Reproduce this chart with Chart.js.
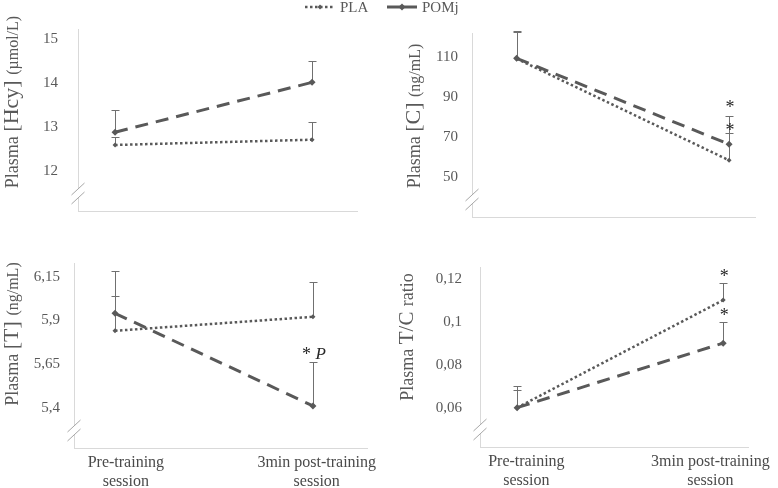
<!DOCTYPE html>
<html>
<head>
<meta charset="utf-8">
<script src="https://cdn.jsdelivr.net/npm/chart.js@4.4.1/dist/chart.umd.min.js"></script>
<style>
  body { margin: 0; background: #fff; width: 778px; height: 488px; position: relative; overflow: hidden; }
  canvas { position: absolute; }
</style>
</head>
<body>
<canvas id="cChart" width="388" height="240" style="left:390px;top:0"></canvas>
<canvas id="tChart" width="390" height="248" style="left:0;top:240px"></canvas>
<canvas id="tcChart" width="388" height="248" style="left:390px;top:240px"></canvas>
<canvas id="hcyChart" width="470" height="240" style="left:0;top:0"></canvas>
<script>
// x categories (index 0 = pre, 1 = post)
const sessionLabels = [['Pre-training', 'session'], ['3min post-training', 'session']];

// Plasma homocysteine (umol/L)
const hcyTicks = [12, 13, 14, 15];
const hcyPla = [12.59, 12.71];
const hcyPlaSd = [0.19, 0.41];
const hcyPom = [12.88, 14.01];
const hcyPomSd = [0.50, 0.48];

// Plasma cortisol (ng/mL)
const cTicks = [50, 70, 90, 110];
const cPla = [109.0, 58.2];
const cPlaSd = [13.5, 13.8];
const cPom = [109.2, 66.2];
const cPomSd = [13.8, 14.0];

// Plasma testosterone (ng/mL)
const tTicks = [5.4, 5.65, 5.9, 6.15];
const tPla = [5.84, 5.92];
const tPlaSd = [0.20, 0.20];
const tPom = [5.94, 5.41];
const tPomSd = [0.245, 0.25];

// T/C ratio
const tcTicks = [0.06, 0.08, 0.1, 0.12];
const tcPla = [0.060, 0.110];
const tcPlaSd = [0.010, 0.008];
const tcPom = [0.060, 0.090];
const tcPomSd = [0.008, 0.010];

// significance marks
const cNotes = [{ x: 1, y: 85.5, text: '*' }, { x: 1, y: 74, text: '*' }];
const tNotes = [{ x: 1, y: 5.713, text: '* ', italic: 'P' }];
const tcNotes = [{ x: 1, y: 0.1216, text: '*' }, { x: 1, y: 0.1035, text: '*' }];

const SERIF = '"Liberation Serif", "Times New Roman", serif';
const INK = '#595959';

function series(label, values, sd, dash, width, radius) {
  return {
    label: label,
    data: values.map((v, i) => ({ x: i, y: v })),
    sd: sd,
    borderColor: INK,
    backgroundColor: INK,
    borderDash: dash,
    borderWidth: width,
    pointStyle: 'rectRot',
    pointRadius: radius,
    pointBorderWidth: 0,
    tension: 0
  };
}

function extras(cfg) {
  return {
    id: 'panelExtras',
    beforeDatasetsDraw(chart) {
      // error bars (upper half only)
      const { ctx, scales: { x, y } } = chart;
      ctx.save();
      ctx.strokeStyle = '#707070';
      ctx.lineWidth = 1;
      chart.data.datasets.forEach(ds => {
        ds.sd.forEach((sd, i) => {
          const px = Math.round(x.getPixelForValue(i)) + 0.5;
          const y0 = y.getPixelForValue(ds.data[i].y);
          const y1 = Math.round(y.getPixelForValue(ds.data[i].y + sd)) + 0.5;
          ctx.beginPath();
          ctx.moveTo(px, y0);
          ctx.lineTo(px, y1);
          ctx.moveTo(px - 4, y1);
          ctx.lineTo(px + 4, y1);
          ctx.stroke();
        });
      });
      ctx.restore();
    },
    afterDraw(chart) {
      const { ctx, chartArea: a, scales: { x, y } } = chart;
      ctx.save();

      // axis break
      const bx = a.left, by = a.bottom - 17.5;
      ctx.fillStyle = '#fff';
      ctx.beginPath();
      ctx.moveTo(bx - 6.5, by + 1.5); ctx.lineTo(bx + 6.5, by - 10.5);
      ctx.lineTo(bx + 6.5, by - 1.5); ctx.lineTo(bx - 6.5, by + 10.5);
      ctx.closePath(); ctx.fill();
      ctx.strokeStyle = '#a6a6a6';
      ctx.lineWidth = 1;
      ctx.beginPath();
      ctx.moveTo(bx - 6.5, by + 1.5); ctx.lineTo(bx + 6.5, by - 10.5);
      ctx.moveTo(bx - 6.5, by + 10.5); ctx.lineTo(bx + 6.5, by - 1.5);
      ctx.stroke();

      // y title with mixed sizes
      const t = cfg.title;
      ctx.save();
      ctx.translate(t.x, t.y);
      ctx.rotate(-Math.PI / 2);
      ctx.fillStyle = INK;
      ctx.textBaseline = 'alphabetic';
      ctx.textAlign = 'left';
      let total = 0;
      const widths = t.parts.map(p => {
        ctx.font = p[1] + 'px ' + SERIF;
        const w = ctx.measureText(p[0]).width;
        total += w;
        return w;
      });
      let cx = -total / 2;
      t.parts.forEach((p, i) => {
        ctx.font = p[1] + 'px ' + SERIF;
        ctx.fillText(p[0], cx, 6);
        cx += widths[i];
      });
      ctx.restore();

      // significance marks
      ctx.fillStyle = '#262626';
      ctx.textBaseline = 'alphabetic';
      ctx.textAlign = 'left';
      cfg.notes.forEach(n => {
        ctx.font = '18px ' + SERIF;
        const w1 = ctx.measureText(n.text).width;
        let w2 = 0;
        if (n.italic) {
          ctx.font = 'italic 17px ' + SERIF;
          w2 = ctx.measureText(n.italic).width;
        }
        const px = x.getPixelForValue(n.x) - (w1 + w2) / 2 + 1;
        const py = y.getPixelForValue(n.y) + 7;
        ctx.font = '18px ' + SERIF;
        ctx.fillText(n.text, px, py);
        if (n.italic) {
          ctx.font = 'italic 17px ' + SERIF;
          ctx.fillText(n.italic, px + w1, py - 1);
        }
      });

      // legend
      if (cfg.key) {
        ctx.font = '15px ' + SERIF;
        ctx.textBaseline = 'middle';
        chart.data.datasets.forEach((ds, i) => {
          const k = cfg.key[i];
          ctx.strokeStyle = INK;
          ctx.lineWidth = ds.borderWidth;
          ctx.setLineDash(i === 0 ? [2.5, 2.5] : []);
          ctx.beginPath();
          ctx.moveTo(k.x0, k.y); ctx.lineTo(k.x1, k.y);
          ctx.stroke();
          ctx.setLineDash([]);
          const mx = (k.x0 + k.x1) / 2, r = ds.pointRadius;
          ctx.fillStyle = INK;
          ctx.beginPath();
          ctx.moveTo(mx, k.y - r); ctx.lineTo(mx + r, k.y);
          ctx.lineTo(mx, k.y + r); ctx.lineTo(mx - r, k.y);
          ctx.closePath(); ctx.fill();
          ctx.fillText(ds.label, k.x1 + 5, k.y + 1);
        });
      }
      ctx.restore();
    }
  };
}

function makeChart(id, cfg) {
  return new Chart(document.getElementById(id), {
    type: 'line',
    data: {
      datasets: [
        series('PLA', cfg.pla, cfg.plaSd, [2.5, 2.5], 2.5, 2.5),
        series('POMj', cfg.pom, cfg.pomSd, [13, 8], 3, 3.5)
      ]
    },
    options: {
      responsive: false,
      animation: false,
      events: [],
      layout: { padding: cfg.pad },
      plugins: { legend: { display: false }, tooltip: { enabled: false } },
      scales: {
        x: {
          type: 'linear',
          min: cfg.xMin,
          max: cfg.xMax,
          grid: { drawOnChartArea: false, drawTicks: false },
          border: { color: '#d9d9d9' },
          afterBuildTicks: s => { s.ticks = cfg.labelAt.map(v => ({ value: v })); },
          afterFit: s => { s.height = cfg.xHeight; },
          ticks: {
            padding: 5,
            maxRotation: 0,
            autoSkip: false,
            color: '#4a4a4a',
            font: { family: SERIF, size: 16 },
            callback: (v, i) => cfg.showLabels ? sessionLabels[i] : ''
          }
        },
        y: {
          min: cfg.yMin,
          max: cfg.yMax,
          grid: { drawOnChartArea: false, drawTicks: false },
          border: { color: '#d9d9d9' },
          afterBuildTicks: s => { s.ticks = cfg.ticks.map(v => ({ value: v })); },
          afterFit: s => { s.width = cfg.yWidth; },
          ticks: {
            padding: cfg.tickPad,
            color: INK,
            font: { family: SERIF, size: 15 },
            callback: v => String(v).replace('.', ',')
          }
        }
      }
    },
    plugins: [extras(cfg)]
  });
}

makeChart('hcyChart', {
  pla: hcyPla, plaSd: hcyPlaSd, pom: hcyPom, pomSd: hcyPomSd, ticks: hcyTicks,
  yMin: 11.093, yMax: 15.22, xMin: -0.188, xMax: 1.228,
  pad: { top: 16, left: 0, right: 113, bottom: 5 }, yWidth: 78, xHeight: 20, tickPad: 20,
  labelAt: [0, 1], showLabels: false,
  title: { x: 12, y: 102, parts: [['Plasma ', 18], ['[Hcy] ', 22], ['(\u00b5mol/L)', 16]] },
  notes: [],
  key: [{ x0: 305, x1: 335, y: 7 }, { x0: 387, x1: 417, y: 7 }]
});

makeChart('cChart', {
  pla: cPla, plaSd: cPlaSd, pom: cPom, pomSd: cPomSd, ticks: cTicks,
  yMin: 29.85, yMax: 121.85, xMin: -0.21, xMax: 1.122,
  pad: { top: 33, left: 0, right: 23, bottom: 5 }, yWidth: 82, xHeight: 18, tickPad: 14,
  labelAt: [0, 1], showLabels: false,
  title: { x: 24, y: 116, parts: [['Plasma ', 18], ['[C] ', 22], ['(ng/mL)', 16]] },
  notes: cNotes
});

makeChart('tChart', {
  pla: tPla, plaSd: tPlaSd, pom: tPom, pomSd: tPomSd, ticks: tTicks,
  yMin: 5.169, yMax: 6.228, xMin: -0.207, xMax: 1.273,
  pad: { top: 23, left: 0, right: 23, bottom: 0 }, yWidth: 74, xHeight: 40, tickPad: 14,
  labelAt: [0.055, 1.019], showLabels: true,
  title: { x: 11.5, y: 94, parts: [['Plasma ', 18], ['[T] ', 22], ['(ng/mL)', 16]] },
  notes: tNotes
});

makeChart('tcChart', {
  pla: tcPla, plaSd: tcPlaSd, pom: tcPom, pomSd: tcPomSd, ticks: tcTicks,
  yMin: 0.0417, yMax: 0.1254, xMin: -0.18, xMax: 1.123,
  pad: { top: 10, left: 0, right: 23, bottom: 0 }, yWidth: 90, xHeight: 41, tickPad: 18,
  labelAt: [0.045, 0.938], showLabels: true,
  title: { x: 17, y: 97, parts: [['Plasma ', 18], ['T/C ', 21], ['ratio', 18]] },
  notes: tcNotes
});
</script>
</body>
</html>
